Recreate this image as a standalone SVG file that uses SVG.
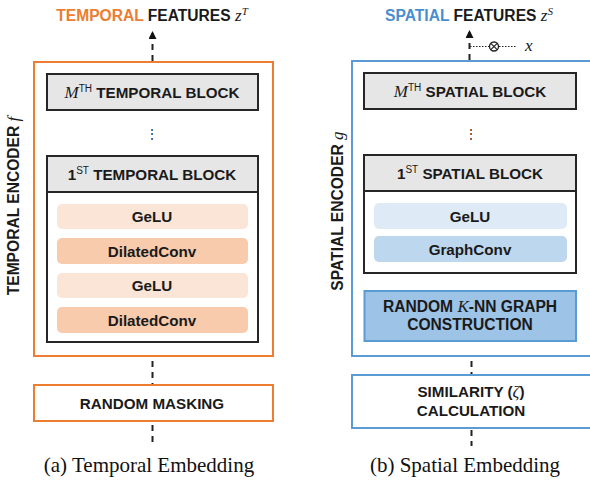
<svg xmlns="http://www.w3.org/2000/svg" width="590" height="484" viewBox="0 0 590 484">
<style>
.t{font-family:"Liberation Sans",Arial,sans-serif;font-weight:bold;fill:#1a1a1a;text-anchor:middle}
.b{font-size:15.2px}
.r{font-size:15.2px}
.m{font-family:"Liberation Serif","Times New Roman",serif;font-style:italic;font-weight:normal}
.cap{font-family:"Liberation Serif","Times New Roman",serif;font-size:21px;fill:#111;text-anchor:middle}
.blk{fill:#fff;stroke:#262626;stroke-width:2}
.hdr{fill:#e7e6e6;stroke:#262626;stroke-width:2}
.dash{stroke:#222;stroke-width:2;stroke-dasharray:6,5;fill:none}
.dot{stroke:#222;stroke-width:1.2;stroke-dasharray:1.5,1.5;fill:none}
</style>
<defs>
<marker id="ah" markerWidth="8" markerHeight="8" refX="7" refY="4" orient="auto" markerUnits="userSpaceOnUse">
<path d="M0,0 L8,4 L0,8 Z" fill="#111"/>
</marker>
</defs>

<!-- Titles -->
<text x="152" y="21" class="t" style="font-size:15.6px"><tspan fill="#ed7d31">TEMPORAL</tspan> FEATURES <tspan class="m" style="font-size:17px">z</tspan><tspan class="m" style="font-size:11px" dy="-6">T</tspan></text>
<text x="469" y="21" class="t" style="font-size:15.6px"><tspan fill="#4a8ed0">SPATIAL</tspan> FEATURES <tspan class="m" style="font-size:17px">z</tspan><tspan class="m" style="font-size:11px" dy="-6">S</tspan></text>

<!-- Vertical labels -->
<text transform="translate(19,206) rotate(-90)" class="t" style="font-size:15.6px">TEMPORAL ENCODER <tspan class="m" style="font-size:17px">f</tspan></text>
<text transform="translate(343,211) rotate(-90)" class="t" style="font-size:15.6px">SPATIAL ENCODER <tspan class="m" style="font-size:17px">g</tspan></text>

<!-- Temporal encoder -->
<g id="temporal-encoder">
<rect x="34" y="62" width="239" height="294" fill="#fff" stroke="#ed7d31" stroke-width="2"/>
</g>
<g id="temporal-block-m">
<rect x="47" y="74" width="211" height="36" class="hdr"/>
<text x="152" y="98" class="t b"><tspan class="m" style="font-size:17px">M</tspan><tspan style="font-size:10px;font-weight:normal" dy="-6">TH</tspan><tspan dy="6"> TEMPORAL BLOCK</tspan></text>
</g>
<text x="152" y="138" class="t" style="font-size:12px;font-weight:normal">&#8942;</text>
<g id="temporal-block-1">
<rect x="47" y="156" width="211" height="186" class="blk"/>
<rect x="47" y="156" width="211" height="36" class="hdr"/>
<text x="152" y="180" class="t b">1<tspan style="font-size:10px;font-weight:normal" dy="-6">ST</tspan><tspan dy="6"> TEMPORAL BLOCK</tspan></text>
</g>
<g id="t-gelu1"><rect x="57" y="204" width="191" height="25" rx="5" fill="#fbe5d6"/><text x="152" y="222" class="t r">GeLU</text></g>
<g id="t-dconv1"><rect x="57" y="238" width="191" height="26" rx="5" fill="#f8cbad"/><text x="152" y="256.5" class="t r">DilatedConv</text></g>
<g id="t-gelu2"><rect x="57" y="273" width="191" height="25" rx="5" fill="#fbe5d6"/><text x="152" y="291" class="t r">GeLU</text></g>
<g id="t-dconv2"><rect x="57" y="307" width="191" height="26" rx="5" fill="#f8cbad"/><text x="152" y="325.5" class="t r">DilatedConv</text></g>
<g id="random-masking">
<rect x="34" y="385" width="239" height="36" fill="#fff" stroke="#ed7d31" stroke-width="2"/>
<text x="152" y="408.5" class="t r">RANDOM MASKING</text>
</g>

<!-- Spatial encoder -->
<g id="spatial-encoder">
<rect x="352" y="61" width="240" height="295" fill="#fff" stroke="#5b9bd5" stroke-width="2"/>
</g>
<g id="spatial-block-m">
<rect x="364" y="73" width="212" height="36" class="hdr"/>
<text x="470" y="97" class="t b"><tspan class="m" style="font-size:17px">M</tspan><tspan style="font-size:10px;font-weight:normal" dy="-6">TH</tspan><tspan dy="6"> SPATIAL BLOCK</tspan></text>
</g>
<text x="471" y="138" class="t" style="font-size:12px;font-weight:normal">&#8942;</text>
<g id="spatial-block-1">
<rect x="364" y="155" width="212" height="118" class="blk"/>
<rect x="364" y="155" width="212" height="36" class="hdr"/>
<text x="470" y="179" class="t b">1<tspan style="font-size:10px;font-weight:normal" dy="-6">ST</tspan><tspan dy="6"> SPATIAL BLOCK</tspan></text>
</g>
<g id="s-gelu"><rect x="374" y="203" width="193" height="26" rx="5" fill="#deebf7"/><text x="470" y="221.5" class="t r">GeLU</text></g>
<g id="s-gconv"><rect x="374" y="236" width="193" height="26" rx="5" fill="#bdd7ee"/><text x="470" y="254.5" class="t r">GraphConv</text></g>
<g id="knn">
<rect x="364.5" y="291" width="211.5" height="50" fill="#9dc3e6" stroke="#5b9bd5" stroke-width="2"/>
<text x="470" y="312" class="t" style="font-size:15.6px">RANDOM <tspan class="m" style="font-size:17px">K</tspan>-NN GRAPH</text>
<text x="470" y="330" class="t" style="font-size:15.6px">CONSTRUCTION</text>
</g>
<g id="similarity">
<rect x="352" y="375" width="240" height="53" fill="#fff" stroke="#5b9bd5" stroke-width="2"/>
<text x="471" y="397" class="t r">SIMILARITY (<tspan class="m" style="font-size:17px;font-weight:normal">&#950;</tspan>)</text>
<text x="471" y="415.5" class="t r">CALCULATION</text>
</g>

<!-- Connectors -->
<g id="connectors">
<line x1="152.5" y1="61" x2="152.5" y2="32" class="dash" stroke-dasharray="8,5" marker-end="url(#ah)"/>
<line x1="152.5" y1="361" x2="152.5" y2="384" class="dash"/>
<line x1="152.5" y1="425" x2="152.5" y2="446" class="dash"/>
<line x1="469.5" y1="60" x2="469.5" y2="31" class="dash" stroke-dasharray="6,5" marker-end="url(#ah)"/>
<line x1="470" y1="46.5" x2="489" y2="46.5" class="dot"/>
<circle cx="494" cy="46.5" r="4.5" fill="none" stroke="#222" stroke-width="1.3"/>
<line x1="490.8" y1="43.3" x2="497.2" y2="49.7" stroke="#222" stroke-width="1.2"/>
<line x1="497.2" y1="43.3" x2="490.8" y2="49.7" stroke="#222" stroke-width="1.2"/>
<line x1="499" y1="46.5" x2="516" y2="46.5" class="dot"/>
<line x1="471.5" y1="361" x2="471.5" y2="374" class="dash"/>
<line x1="471.5" y1="430" x2="471.5" y2="446" class="dash"/>
</g>
<text x="525" y="51" class="m" style="font-size:17px;fill:#111">x</text>

<!-- Captions -->
<text x="149" y="472" class="cap">(a) Temporal Embedding</text>
<text x="465" y="472" class="cap">(b) Spatial Embedding</text>
</svg>
